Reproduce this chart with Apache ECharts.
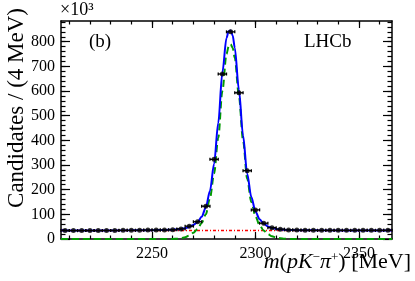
<!DOCTYPE html>
<html>
<head>
<meta charset="utf-8">
<script src="https://cdn.jsdelivr.net/npm/echarts@6/dist/echarts.min.js"></script>
<style>html,body{margin:0;padding:0;background:#fff}#c{width:415px;height:281px}</style>
</head>
<body>
<div id="c"></div>
<script>
// ---- data (candidates in units of 10^3 per 4 MeV) ----
const binCenters = [2208,2212,2216,2220,2224,2228,2232,2236,2240,2244,2248,2252,2256,2260,2264,2268,2272,2276,2280,2284,2288,2292,2296,2300,2304,2308,2312,2316,2320,2324,2328,2332,2336,2340,2344,2348,2352,2356,2360,2364];
const candidates = [34,34,34,34,34,34.5,34.5,35,35,35.5,36,36,36.5,37.5,41,52,70,133,323,669,840,593,277,118,64,46,40,37,36,35.5,35,35,35,35,35,35,35,35,35,35];
const binHalfWidth = 2;

const totalMass = [2206,2240,2250,2256,2260,2264,2266,2268,2270,2272,2274,2276,2278,2280,2282,2284,2286,2287,2288,2289,2290,2292,2294,2296,2298,2300,2302,2304,2306,2308,2310,2312,2316,2320,2330,2366];
const totalFit  = [34.5,35,35.5,36.5,38,41,44,49,57,68,90,128,195,305,470,675,815,842,845,825,775,605,420,265,170,112,80,62,51,45,41,38.5,36.5,35.5,35,34.5];

const signalMass = [2206,2258,2260,2262,2264,2266,2268,2270,2272,2274,2276,2278,2280,2282,2284,2286,2287,2288,2289,2290,2292,2294,2296,2298,2300,2302,2304,2306,2308,2310,2312,2314,2316,2318,2366];
const signalFit  = [0,0,0.3,1,3,7,14,25,40,65,100,165,265,410,600,750,780,790,775,735,580,400,245,150,92,56,34,20,11,6,3,1.5,0.5,0,0];

const bkgMass = [2206,2366];
const bkgFit  = [34.5,34.5];

const xMajorTicks = [2250,2300,2350];
const xMinorTicks = [2210,2220,2230,2240,2250,2260,2270,2280,2290,2300,2310,2320,2330,2340,2350,2360];
const yMajorTicks = [0,100,200,300,400,500,600,700,800];
const yMinorTicks = [20,40,60,80,100,120,140,160,180,200,220,240,260,280,300,320,340,360,380,400,420,440,460,480,500,520,540,560,580,600,620,640,660,680,700,720,740,760,780,800,820,840,860,880];

const xMin = 2206, xMax = 2366, yMin = 0, yMax = 884;
const FONT = 'Liberation Serif';

const zip = (a, b) => a.map((v, i) => [v, b[i]]);

const chart = echarts.init(document.getElementById('c'), null, {renderer: 'canvas'});

const labelStyle = (margin) => ({show: true, color: '#000', fontFamily: FONT, fontSize: 16, margin: margin,
  formatter: (v) => '{t|' + String(Math.round(v)) + '}',
  rich: {t: {fontFamily: FONT, fontSize: 16, color: '#000'}}});

function xAx(pos, ticks, len, labels, showLine) {
  const lab = labels ? Object.assign(labelStyle(7), {customValues: labels}) : {show: false};
  return {
    type: 'value', min: xMin, max: xMax, position: pos,
    axisLine: {show: showLine, onZero: false, lineStyle: {color: '#000', width: 1.5}},
    axisTick: {show: true, inside: true, length: len, customValues: ticks, lineStyle: {color: '#000', width: 1.2}},
    axisLabel: lab,
    splitLine: {show: false}
  };
}
function yAx(pos, ticks, len, labels, showLine) {
  const lab = labels ? Object.assign(labelStyle(6), {customValues: labels}) : {show: false};
  return {
    type: 'value', min: yMin, max: yMax, position: pos,
    axisLine: {show: showLine, onZero: false, lineStyle: {color: '#000', width: 1.5}},
    axisTick: {show: true, inside: true, length: len, customValues: ticks, lineStyle: {color: '#000', width: 1.2}},
    axisLabel: lab,
    splitLine: {show: false}
  };
}

const option = {
  animation: false,
  backgroundColor: '#fff',
  textStyle: {fontFamily: FONT, color: '#000'},
  grid: {left: 61, right: 23, top: 21, bottom: 42, containLabel: false},
  xAxis: [
    xAx('bottom', xMajorTicks, 7, xMajorTicks, true),
    xAx('bottom', xMinorTicks, 3.5, null, false),
    xAx('top', xMajorTicks, 7, null, true),
    xAx('top', xMinorTicks, 3.5, null, false)
  ],
  yAxis: [
    yAx('left', yMajorTicks, 9, yMajorTicks, true),
    yAx('left', yMinorTicks, 4.5, null, false),
    yAx('right', yMajorTicks, 9, null, true),
    yAx('right', yMinorTicks, 4.5, null, false)
  ],
  graphic: [
    {type: 'text', x: 17, y: 8, rotation: Math.PI / 2,
     style: {text: 'Candidates / (4 MeV)', font: '23px "Liberation Serif"', fill: '#000', align: 'right', verticalAlign: 'middle'}},
    {type: 'text', x: 60, y: 10,
     style: {text: '×10³', font: '18px "Liberation Serif"', fill: '#000', align: 'left', verticalAlign: 'middle'}},
    {type: 'text', x: 89, y: 42,
     style: {text: '(b)', font: '19px "Liberation Serif"', fill: '#000', align: 'left', verticalAlign: 'middle'}},
    {type: 'text', x: 304, y: 42,
     style: {text: 'LHCb', font: '19px "Liberation Serif"', fill: '#000', align: 'left', verticalAlign: 'middle'}},
    {type: 'text', x: 411, y: 262,
     style: {
       text: '{i|m}{n|(}{i|pK}{s|−}{i|π}{s|+}{n|) [MeV]}',
       align: 'right', verticalAlign: 'middle',
       rich: {
         i: {fontFamily: FONT, fontSize: 22, fontStyle: 'italic', fill: '#000', lineHeight: 22},
         n: {fontFamily: FONT, fontSize: 22, fill: '#000', lineHeight: 22},
         s: {fontFamily: FONT, fontSize: 13, fill: '#000', lineHeight: 13, padding: [0, 0, 8, 0]}
       }
     }}
  ],
  series: [
    {type: 'line', name: 'bkg', data: zip(bkgMass, bkgFit), showSymbol: false, z: 2,
     lineStyle: {color: '#ff0000', width: 1.5, type: [3, 2, 1, 2]}},
    {type: 'line', name: 'signal', data: zip(signalMass, signalFit), showSymbol: false, smooth: 0.3, smoothMonotone: 'x', z: 3,
     lineStyle: {color: '#009a00', width: 2, type: [7, 4]}},
    {type: 'line', name: 'total', data: zip(totalMass, totalFit), showSymbol: false, smooth: 0.3, smoothMonotone: 'x', z: 4,
     lineStyle: {color: '#0000ff', width: 2}},
    {type: 'custom', name: 'xerr', z: 5, data: zip(binCenters, candidates),
     renderItem: function (params, api) {
       const x = api.value(0), y = api.value(1);
       const l = api.coord([x - binHalfWidth, y]);
       const r = api.coord([x + binHalfWidth, y]);
       const st = {stroke: '#000', lineWidth: 1.3};
       return {type: 'group', children: [
         {type: 'line', shape: {x1: l[0], y1: l[1], x2: r[0], y2: r[1]}, style: st},
         {type: 'line', shape: {x1: l[0], y1: l[1] - 1.5, x2: l[0], y2: l[1] + 1.5}, style: st},
         {type: 'line', shape: {x1: r[0], y1: r[1] - 1.5, x2: r[0], y2: r[1] + 1.5}, style: st}
       ]};
     }},
    {type: 'scatter', name: 'data', data: zip(binCenters, candidates), symbol: 'circle', symbolSize: 5, z: 6,
     itemStyle: {color: '#000'}}
  ]
};
chart.setOption(option);
</script>
</body>
</html>
